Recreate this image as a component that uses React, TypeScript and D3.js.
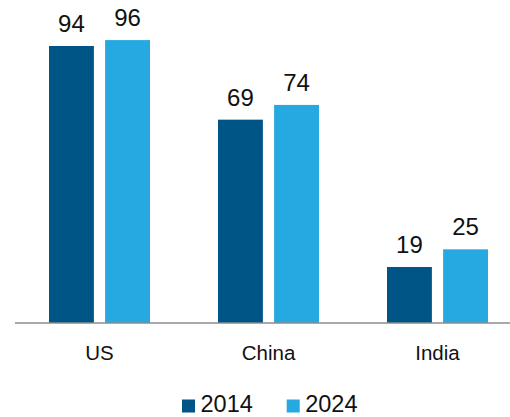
import React from "react";
import * as d3 from "d3";

const categories = ["US", "China", "India"];
const years = ["2014", "2024"];
const values2014 = [94, 69, 19];
const values2024 = [96, 74, 25];
const seriesColors = ["#005587", "#25a9e0"];

const W = 510;
const H = 417;
const baseY = 323;
const FONT = "'Liberation Sans', Arial, sans-serif";

export default function App() {
  const x = d3.scaleBand<string>().domain(categories).range([15, 522]).paddingInner(0).paddingOuter(0);
  const inner = d3.scaleBand<string>().domain(years).range([0, 101]).paddingInner(0.2).paddingOuter(0);
  const y = d3.scaleLinear().domain([0, 100]).range([baseY, baseY - 294.7]);
  const series = [values2014, values2024];
  const offset = (x.bandwidth() - 101) / 2;

  return (
    <svg width={W} height={H} style={{ position: "absolute", left: 0, top: 0, background: "#fff" }}>
      {categories.map((c, i) => (
        <g key={c}>
          {years.map((yr, s) => {
            const v = series[s][i];
            const bx = (x(c) as number) + offset + (inner(yr) as number);
            const bw = inner.bandwidth();
            return (
              <g key={yr}>
                <rect x={bx} y={y(v)} width={bw} height={baseY - y(v)} fill={seriesColors[s]} />
                <text
                  x={bx + bw / 2}
                  y={y(v) - 14}
                  textAnchor="middle"
                  fontFamily={FONT}
                  fontSize={24}
                  fill="#111"
                >
                  {v}
                </text>
              </g>
            );
          })}
          <text
            x={(x(c) as number) + x.bandwidth() / 2}
            y={360}
            textAnchor="middle"
            fontFamily={FONT}
            fontSize={20.5}
            fill="#111"
          >
            {c}
          </text>
        </g>
      ))}
      <line x1={15} x2={510} y1={baseY} y2={baseY} stroke="#8c8c8c" strokeWidth={1.5} />
      {years.map((yr, s) => {
        const lx = 182 + s * 104.7;
        return (
          <g key={yr}>
            <rect x={lx} y={399.5} width={13} height={13} fill={seriesColors[s]} />
            <text x={lx + 18.5} y={412} fontFamily={FONT} fontSize={23.5} fill="#111">
              {yr}
            </text>
          </g>
        );
      })}
    </svg>
  );
}
